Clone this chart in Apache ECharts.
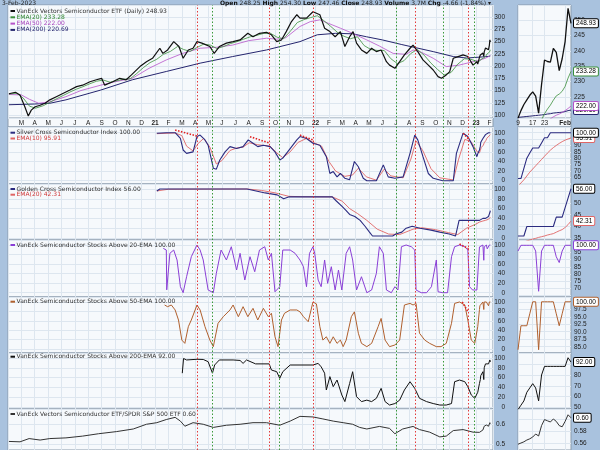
<!DOCTYPE html>
<html><head><meta charset="utf-8">
<script src="https://cdn.jsdelivr.net/npm/echarts@6/dist/echarts.min.js"></script>
<style>html,body{margin:0;padding:0;background:#a9c2de;}#c{width:600px;height:450px;}</style>
</head><body><div id="c"></div><script>
// ---------------- DATA ----------------
const monthLetters = ['J','F','M','A','M','J','J','A','S','O','N','D'];
const recentDates = ['2023-01-09','2023-01-10','2023-01-11','2023-01-12','2023-01-13','2023-01-17','2023-01-18','2023-01-19','2023-01-20','2023-01-23','2023-01-24','2023-01-25','2023-01-26','2023-01-27','2023-01-30','2023-01-31','2023-02-01','2023-02-02','2023-02-03'];
const recentTickIdx = [0,5,9,16];
const recentTickText = ['9','17','23','Feb'];

const price = [['2020-02-03',143.5],['2020-02-06',144],['2020-02-17',146.5],['2020-02-27',141],['2020-03-09',117],['2020-03-17',98],['2020-03-24',110],['2020-04-02',117],['2020-04-13',120],['2020-04-24',124],['2020-05-05',131],['2020-05-20',137.5],['2020-06-04',144],['2020-06-20',151],['2020-07-05',158],['2020-07-19',161],['2020-08-05',168],['2020-08-20',172],['2020-09-01',175],['2020-09-08',161],['2020-09-26',168],['2020-10-12',175],['2020-10-27',172],['2020-11-08',182],['2020-11-27',199],['2020-12-12',209],['2020-12-26',216],['2021-01-12',236.5],['2021-01-19',226],['2021-01-30',233],['2021-02-12',250],['2021-02-23',240],['2021-03-04',216],['2021-03-16',233],['2021-03-27',236.5],['2021-04-05',250],['2021-04-16',247],['2021-05-04',240],['2021-05-14',226],['2021-05-26',240],['2021-06-11',247],['2021-06-26',250],['2021-07-12',253.5],['2021-07-30',267],['2021-08-11',260],['2021-08-26',267],['2021-09-11',269],['2021-09-22',264],['2021-10-04',250],['2021-10-15',253.5],['2021-10-26',270.5],['2021-11-07',291],['2021-11-19',305],['2021-11-26',298],['2021-12-11',298],['2021-12-26',311],['2022-01-11',305],['2022-01-22',277.5],['2022-02-03',270.5],['2022-02-14',260],['2022-02-25',270.5],['2022-03-07',240],['2022-03-18',260],['2022-03-26',270.5],['2022-04-03',247],['2022-04-14',233],['2022-04-26',226],['2022-05-07',236.5],['2022-05-18',229.6],['2022-05-29',233],['2022-06-10',209],['2022-06-17',202],['2022-06-29',195.5],['2022-07-10',209],['2022-07-21',223],['2022-08-03',236.5],['2022-08-10',243],['2022-08-21',229.6],['2022-09-02',212.6],['2022-09-14',202],['2022-09-25',192],['2022-10-06',178.5],['2022-10-14',175],['2022-10-25',182],['2022-11-02',188.6],['2022-11-10',216],['2022-11-21',219.5],['2022-12-02',223],['2022-12-13',219.5],['2022-12-25',202],['2023-01-03',209],['2023-01-05',204]];
const recentPrice = [218,220.5,222.5,224,225.5,226.6,225.2,219.7,229,237,236.5,236.3,240.8,239.5,233.5,237.4,243,253.8,248.93];

const ema20 = [['2020-02-03',143],['2020-02-20',144.5],['2020-03-05',135],['2020-03-20',118],['2020-04-03',114],['2020-04-20',119],['2020-05-05',126],['2020-05-20',133],['2020-06-05',140],['2020-06-20',147],['2020-07-05',153],['2020-07-20',158],['2020-08-05',164],['2020-08-20',169],['2020-09-05',171.5],['2020-09-20',167],['2020-10-05',170],['2020-10-20',173],['2020-11-05',174],['2020-11-20',185],['2020-12-05',197],['2020-12-20',207],['2021-01-05',214],['2021-01-20',224],['2021-02-05',230],['2021-02-20',240],['2021-03-05',234],['2021-03-20',230],['2021-04-05',238],['2021-04-20',245],['2021-05-05',243],['2021-05-20',236],['2021-06-05',240],['2021-06-20',246],['2021-07-05',250],['2021-07-20',255],['2021-08-05',260],['2021-08-20',263],['2021-09-05',267],['2021-09-20',267],['2021-10-05',259],['2021-10-20',256],['2021-11-05',272],['2021-11-20',289],['2021-12-05',295],['2021-12-20',299],['2022-01-05',303],['2022-01-20',293],['2022-02-05',281],['2022-02-20',268],['2022-03-05',261],['2022-03-20',256],['2022-04-05',260],['2022-04-20',242],['2022-05-05',234],['2022-05-20',232],['2022-06-05',232],['2022-06-20',215],['2022-07-05',205],['2022-07-20',211],['2022-08-05',226],['2022-08-20',234],['2022-09-05',222],['2022-09-20',206],['2022-10-05',193],['2022-10-20',182],['2022-11-05',187],['2022-11-20',204],['2022-12-05',215],['2022-12-20',214],['2023-01-04',209.5]];
const recentEma20 = [210,210.9,212,213.1,214.3,215.4,216.3,216.6,217.5,219.5,221,222.3,223.9,225.3,225.9,226.8,228.4,231.1,233.28];

const ema50 = [['2020-02-03',142],['2020-03-01',141],['2020-03-20',132],['2020-04-10',124],['2020-05-05',127],['2020-06-11',137.5],['2020-07-15',150],['2020-08-30',161],['2020-10-01',168],['2020-11-10',175],['2020-12-18',195.5],['2021-01-27',212.6],['2021-03-03',226],['2021-04-12',236.5],['2021-05-20',238.5],['2021-06-25',243],['2021-08-01',252],['2021-09-11',257],['2021-10-04',255],['2021-10-25',258],['2021-11-26',281],['2021-12-20',291],['2022-01-11',294.5],['2022-02-25',277.5],['2022-03-25',267],['2022-04-26',253.5],['2022-05-25',241],['2022-06-25',226],['2022-07-25',224],['2022-08-10',233],['2022-08-30',228],['2022-09-25',216],['2022-10-25',199],['2022-11-23',202],['2022-12-25',209]];
const recentEma50 = [212,212.4,212.8,213.3,213.8,214.3,214.7,214.9,215.4,216.2,217,217.8,218.5,219,219.4,219.9,220.5,221.2,222.0];

const ema200 = [['2020-02-03',121],['2020-04-01',122.5],['2020-05-05',124],['2020-06-11',131],['2020-08-30',151],['2020-11-10',172],['2021-01-27',189],['2021-04-12',206],['2021-06-25',219.5],['2021-09-11',233],['2021-11-26',250],['2022-01-05',264],['2022-02-15',267],['2022-03-25',266],['2022-04-25',260],['2022-06-01',253.5],['2022-07-15',244],['2022-09-25',229.6],['2022-11-10',219.5],['2022-12-10',216.5]];
const recentEma200 = [218.3,218.4,218.5,218.6,218.7,218.8,218.9,219.0,219.1,219.2,219.4,219.5,219.7,219.8,219.9,220.0,220.2,220.5,220.69];

const silver = [['2021-01-05',99],['2021-01-27',100],['2021-02-15',100],['2021-02-26',88],['2021-03-04',64],['2021-03-12',57],['2021-03-27',60],['2021-04-05',92],['2021-04-12',95],['2021-04-23',85],['2021-04-30',74],['2021-05-12',26],['2021-05-19',24],['2021-05-27',43],['2021-06-08',60],['2021-06-19',71],['2021-07-04',67],['2021-07-19',71],['2021-07-31',85],['2021-08-11',78],['2021-08-22',71],['2021-09-04',74],['2021-09-19',71],['2021-09-30',60],['2021-10-11',43],['2021-10-18',47],['2021-11-04',67],['2021-11-19',85],['2021-11-26',92],['2021-12-11',88],['2021-12-26',78],['2022-01-11',74],['2022-01-26',50],['2022-02-03',15],['2022-02-10',19],['2022-02-18',8],['2022-02-25',15],['2022-03-07',5],['2022-03-18',2],['2022-03-29',40],['2022-04-07',29],['2022-04-18',5],['2022-04-26',0],['2022-05-18',0],['2022-06-03',33],['2022-06-14',8],['2022-06-29',5],['2022-07-18',8],['2022-08-03',57],['2022-08-14',95],['2022-08-21',85],['2022-09-02',50],['2022-09-14',15],['2022-09-25',5],['2022-10-17',0],['2022-11-10',0],['2022-11-17',57],['2022-12-02',99],['2022-12-13',92],['2022-12-25',71],['2023-01-03',50],['2023-01-05',56]];
const recentSilver = [64,64,72,80,84,88,88,88,92,96,96,100,100,100,100,100,100,100,100];
const silverEma10 = [['2021-01-05',98],['2021-02-15',99.5],['2021-03-01',94],['2021-03-12',72],['2021-03-27',62],['2021-04-08',78],['2021-04-20',88],['2021-05-04',70],['2021-05-19',35],['2021-06-01',42],['2021-06-19',63],['2021-07-04',68],['2021-07-19',70],['2021-08-02',79],['2021-08-22',75],['2021-09-19',72],['2021-10-04',58],['2021-10-18',48],['2021-11-04',60],['2021-11-22',80],['2021-12-11',88],['2021-12-26',80],['2022-01-15',72],['2022-02-01',40],['2022-02-15',20],['2022-03-07',9],['2022-03-25',12],['2022-04-07',26],['2022-04-25',8],['2022-05-18',1],['2022-06-05',24],['2022-06-20',10],['2022-07-18',6],['2022-08-05',45],['2022-08-17',83],['2022-09-02',62],['2022-09-20',25],['2022-10-10',6],['2022-11-10',1.5],['2022-11-22',45],['2022-12-06',86],['2022-12-20',82],['2023-01-04',60]];
const recentSilverEma10 = [58,60.5,63,66,69,71.5,74,76.5,79,81.5,84,86.3,88.3,90,91.6,93,94.2,95.1,95.91];

const golden = [['2021-01-05',96],['2021-01-12',100],['2021-07-28',100],['2021-07-30',96],['2021-09-08',92],['2021-10-05',88],['2021-10-20',80],['2021-11-02',84],['2022-02-08',84],['2022-02-16',76],['2022-03-01',64],['2022-03-10',56],['2022-03-18',48],['2022-03-30',44],['2022-04-11',36],['2022-04-22',24],['2022-05-02',12],['2022-05-09',4],['2022-06-24',4],['2022-07-01',8],['2022-07-15',12],['2022-07-25',20],['2022-08-08',24],['2022-08-26',20],['2022-09-20',16],['2022-10-10',12],['2022-11-01',8],['2022-11-15',4],['2022-11-23',36]];
const recentGolden = [36,36,36,40,40,40,40,40,40,40,40,40,40,44,44,44,48,52,56];
const goldenEma20 = [['2021-01-05',96],['2021-02-01',99.5],['2021-07-28',100],['2021-08-31',97],['2021-10-01',92],['2021-11-01',85],['2021-12-01',84.3],['2022-02-08',84],['2022-03-01',75],['2022-03-18',60],['2022-04-05',50],['2022-04-26',36],['2022-05-20',18],['2022-06-15',8],['2022-07-10',7],['2022-08-10',18],['2022-08-30',21],['2022-09-30',17],['2022-10-30',11],['2022-11-20',7],['2022-12-10',20],['2022-12-31',28]];
const recentGoldenEma20 = [32.5,33,33.4,33.9,34.3,34.7,35,35.4,35.7,36,36.4,36.7,37,37.6,38.2,38.7,39.6,40.8,42.31];

const above20 = [['2021-01-20',93],['2021-01-27',89.5],['2021-01-28',6],['2021-02-04',82.6],['2021-02-12',89.5],['2021-02-19',68.6],['2021-02-26',12.6],['2021-03-04',0],['2021-03-12',33.5],['2021-03-23',75.5],['2021-04-05',100],['2021-04-12',89.5],['2021-04-19',68.6],['2021-04-30',5.7],['2021-05-12',0],['2021-05-19',40.6],['2021-05-30',89.5],['2021-06-11',68.6],['2021-06-22',96.4],['2021-07-04',47.6],['2021-07-12',82.6],['2021-07-23',26.6],['2021-08-04',75.5],['2021-08-15',44],['2021-08-26',89.5],['2021-09-07',96.4],['2021-09-15',68.6],['2021-09-22',82.6],['2021-09-30',2],['2021-10-11',12.6],['2021-10-18',89.5],['2021-11-04',89.5],['2021-11-15',82.6],['2021-11-26',68.6],['2021-12-04',54.5],['2021-12-11',12.6],['2021-12-18',82.6],['2021-12-26',96.4],['2021-12-30',82.6],['2022-01-07',26.6],['2022-01-14',12.6],['2022-01-22',68.6],['2022-01-29',19.6],['2022-02-06',54.5],['2022-02-14',5.7],['2022-02-21',47.6],['2022-02-28',5.7],['2022-03-10',82.6],['2022-03-18',96.4],['2022-03-25',68.6],['2022-04-03',5.7],['2022-04-14',33.5],['2022-04-26',0],['2022-05-07',5.7],['2022-05-18',40.6],['2022-05-25',96.4],['2022-06-03',82.6],['2022-06-10',5.7],['2022-06-21',0],['2022-06-29',12.6],['2022-07-06',5.7],['2022-07-14',96.4],['2022-07-25',100],['2022-08-06',96.4],['2022-08-14',89.5],['2022-08-17',5.7],['2022-08-29',0],['2022-09-10',0],['2022-09-21',12.6],['2022-10-02',68.6],['2022-10-06',2],['2022-10-17',0],['2022-10-28',0],['2022-11-06',75.5],['2022-11-13',96.4],['2022-11-24',100],['2022-12-06',96.4],['2022-12-13',89.5],['2022-12-17',12.6],['2022-12-24',5.7],['2023-01-03',5.7]];
const recentAbove20 = [96,100,100,100,100,100,96,68,96,100,100,100,100,92,88,96,100,100,100];

const above50 = [['2021-01-23',93.6],['2021-01-30',90],['2021-02-07',93.6],['2021-02-15',83],['2021-02-22',61.7],['2021-03-01',19],['2021-03-08',12],['2021-03-16',47.4],['2021-03-23',61.7],['2021-04-05',93.6],['2021-04-12',83],['2021-04-23',47.4],['2021-05-04',19],['2021-05-12',5],['2021-05-23',54.7],['2021-06-04',68.7],['2021-06-19',83],['2021-06-26',93.6],['2021-07-08',68.7],['2021-07-19',90],['2021-07-30',68.7],['2021-08-11',86.5],['2021-08-22',61.7],['2021-09-04',86.5],['2021-09-15',68.7],['2021-09-22',76],['2021-09-30',26],['2021-10-07',5],['2021-10-15',61.7],['2021-10-22',76],['2021-11-04',83],['2021-11-19',83],['2021-11-26',79],['2021-12-04',68.7],['2021-12-15',58],['2021-12-26',100],['2022-01-03',96],['2022-01-11',47.4],['2022-01-18',19],['2022-01-26',26],['2022-02-03',12],['2022-02-10',26],['2022-02-18',12],['2022-02-25',19],['2022-03-03',5],['2022-03-10',19],['2022-03-22',68.7],['2022-03-29',79],['2022-04-07',33.5],['2022-04-14',12],['2022-04-26',5],['2022-05-07',12],['2022-05-22',47.4],['2022-05-29',65],['2022-06-07',19],['2022-06-17',5],['2022-06-29',8.5],['2022-07-10',19],['2022-07-21',93.6],['2022-08-03',97],['2022-08-10',93.6],['2022-08-17',97],['2022-08-25',33.5],['2022-09-06',19],['2022-09-17',12],['2022-10-02',5],['2022-10-13',5],['2022-10-25',12],['2022-11-06',54.7],['2022-11-13',97],['2022-11-24',100],['2022-12-06',93.6],['2022-12-13',61.7],['2022-12-21',19],['2022-12-29',12],['2023-01-05',47.4]];
const recentAbove50 = [84,92,92,92,96,100,100,84,100,100,100,100,100,96,92,96,100,100,100];

const above200 = [['2021-03-02',69],['2021-03-05',99],['2021-03-12',96],['2021-04-05',97.4],['2021-04-19',97],['2021-04-30',92.5],['2021-05-10',69],['2021-05-15',85.7],['2021-05-26',96],['2021-06-26',96],['2021-07-12',95],['2021-07-19',89],['2021-07-27',96],['2021-08-17',88],['2021-09-17',88],['2021-09-22',75.5],['2021-10-04',72],['2021-10-11',58.5],['2021-10-18',72],['2021-11-04',85.7],['2021-12-26',85.7],['2022-01-07',89],['2022-01-14',82],['2022-01-22',69],['2022-01-26',34.7],['2022-02-03',62],['2022-02-10',41.5],['2022-02-18',55],['2022-02-28',24.5],['2022-03-07',11],['2022-03-18',48],['2022-03-25',72],['2022-04-03',21],['2022-04-14',11],['2022-04-26',14],['2022-05-07',11],['2022-05-18',17.7],['2022-05-29',38],['2022-06-07',11],['2022-06-17',4],['2022-06-29',7],['2022-07-10',14],['2022-07-21',34.7],['2022-08-03',51.6],['2022-08-14',38],['2022-08-25',17.7],['2022-09-10',11],['2022-09-25',7],['2022-10-10',4],['2022-10-25',4],['2022-11-06',7],['2022-11-13',51.6],['2022-11-24',55],['2022-12-06',51.6],['2022-12-13',41.5],['2022-12-21',24.5],['2022-12-29',17.7],['2023-01-05',30]];
const recentAbove200 = [48,52,56,64,68,72,68,56,80,88,88,88,88,88,88,88,88,96,92];

const ratio = [['2020-02-03',0.513],['2020-02-06',0.512],['2020-02-27',0.511],['2020-03-19',0.5275],['2020-04-13',0.52],['2020-05-05',0.5275],['2020-06-11',0.531],['2020-07-19',0.54],['2020-08-25',0.552],['2020-10-05',0.563],['2020-11-12',0.576],['2020-12-12',0.6],['2021-01-05',0.608],['2021-01-27',0.624],['2021-02-15',0.635],['2021-02-26',0.616],['2021-03-08',0.59],['2021-03-27',0.608],['2021-04-19',0.6],['2021-05-12',0.584],['2021-06-11',0.595],['2021-07-12',0.6],['2021-08-11',0.608],['2021-09-11',0.608],['2021-10-11',0.595],['2021-11-04',0.616],['2021-11-26',0.64],['2021-12-26',0.637],['2022-01-18',0.627],['2022-02-10',0.616],['2022-03-03',0.608],['2022-03-25',0.6],['2022-04-10',0.584],['2022-04-26',0.576],['2022-05-25',0.589],['2022-06-17',0.579],['2022-06-29',0.552],['2022-07-17',0.576],['2022-08-10',0.589],['2022-08-25',0.573],['2022-09-17',0.56],['2022-10-10',0.536],['2022-10-25',0.54],['2022-11-10',0.568],['2022-12-02',0.573],['2022-12-25',0.56]];
const recentRatio = [0.559,0.561,0.563,0.566,0.568,0.571,0.576,0.5727,0.590,0.600,0.598,0.596,0.601,0.597,0.590,0.588,0.597,0.608,0.603];

const redSignals = ['2021-04-05','2021-09-17','2021-12-27','2022-08-15','2022-12-15'];
const greenSignals = ['2021-05-10','2021-10-11','2022-07-01','2022-10-17','2022-12-27'];
const silverTrendlines = [[['2021-02-15',105.6],['2021-04-05',93]],[['2021-08-04',91.7],['2021-09-19',78]],[['2021-11-26',95],['2021-12-26',85]],[['2022-12-02',99],['2022-12-17',85]]];
const above20Trendlines = [[['2022-11-24',102],['2022-12-15',92]]];
const above50Trendlines = [[['2022-11-30',100],['2022-12-13',80]]];

// ---------------- LAYOUT / STYLE ----------------
const PLOT = '#f6f9fc', GRIDC = '#dde6ef', BORDER = '#8a9bad';
const AXF = 'Liberation Sans, Arial, sans-serif';
const LGF = 'DejaVu Sans';
const MAIN_L = 8, MAIN_W = 485, SM_L = 518, SM_W = 53;
const panels = [
  {top:5, bottom:118, min:93.9, max:324.9, step:25, sMin:218.1, sMax:254.9, sStep:5, sLab:[219,251], sDec:0},
  {top:127, bottom:184, min:-6.9, max:111.9, step:20, sMin:59.7, sMax:104.5, sStep:5, sLab:[62,101], sDec:0},
  {top:184, bottom:240, min:-4.1, max:110.2, step:20, sMin:34.3, sMax:58.0, sStep:5, sLab:[34,56], sDec:0},
  {top:240, bottom:297, min:-9.0, max:110.5, step:20, sMin:64.0, sMax:103.7, sStep:5, sLab:[68,101], sDec:0},
  {top:297, bottom:353, min:-8.5, max:110.6, step:20, sMin:82.9, sMax:101.6, sStep:2.5, sLab:[84,101], sDec:1},
  {top:353, bottom:409, min:-4.1, max:110.2, step:20, sMin:48.5, sMax:100.4, sStep:10, sLab:[48,95], sDec:0},
  {top:409, bottom:452, min:0.4696, max:0.6773, step:0.1, sMin:0.5494, sMax:0.6176, sStep:0.02, sLab:[0.555,0.61], sDec:2}
];

const toM = d => { const [y,mo,da] = d.split('-').map(Number); const dim = new Date(y, mo, 0).getDate(); return (y-2020)*12 + (mo-1) + (da-1)/dim; };
const join = (hist, recent) => hist.map(([d,v]) => [toM(d), v]).concat(recentDates.map((d,i) => [toM(d), recent[i]]));
const conv = h => h.map(([d,v]) => [toM(d), v]);

const grids = [], xAxes = [], yAxes = [], series = [];
const NP = panels.length;
panels.forEach((p, k) => {
  grids.push({left:MAIN_L, top:p.top, width:MAIN_W, height:p.bottom-p.top, show:true, backgroundColor:PLOT, borderColor:BORDER, borderWidth:1, containLabel:false});
  xAxes.push({gridIndex:k, type:'value', min:1, max:37.27, interval:1, axisLine:{show:false}, axisTick:{show:false},
    splitLine:{show:true, lineStyle:{color:GRIDC, width:1}},
    axisLabel: k===0 ? {show:true, margin:1.5, fontSize:6.5, fontFamily:AXF, color:'#222',
      formatter: v => { if (v < 2) return ''; const mo = ((v % 12) + 12) % 12; return mo === 0 ? '{b|' + String(2020 + v/12).slice(2) + '}' : monthLetters[mo]; },
      rich:{b:{fontWeight:'bold', fontSize:6.5, fontFamily:AXF, color:'#222'}}} : {show:false}});
  yAxes.push({gridIndex:k, type:'value', position:'right', min:p.min, max:p.max, minInterval:p.step, maxInterval:p.step,
    axisLine:{show:false}, axisTick:{show:false}, splitLine:{show:true, lineStyle:{color:GRIDC, width:1}},
    axisLabel:{showMinLabel:false, showMaxLabel:false, fontSize:6.5, fontFamily:AXF, color:'#222', align:'right', margin:12,
      formatter: v => (v < p.min + 1e-9 || v > p.max - 1e-9) ? '' : String(+v.toFixed(2))}});
});
panels.forEach((p, k) => {
  const g = NP + k;
  grids.push({left:SM_L, top:p.top, width:SM_W, height:p.bottom-p.top, show:true, backgroundColor:PLOT, borderColor:BORDER, borderWidth:1});
  xAxes.push({gridIndex:g, type:'category', data:recentDates, boundaryGap:false, axisLine:{show:false}, axisTick:{show:false},
    splitLine:{show:true, interval:(i) => recentTickIdx.includes(i), lineStyle:{color:GRIDC, width:1}},
    axisLabel: k===0 ? {show:true, margin:1.5, fontSize:6.5, fontFamily:AXF, color:'#222', interval:(i) => recentTickIdx.includes(i),
      formatter:(v, i) => { const j = recentTickIdx.indexOf(i); const t = j >= 0 ? recentTickText[j] : ''; return t === 'Feb' ? '{b|Feb}' : t; },
      rich:{b:{fontWeight:'bold', fontSize:6.5, fontFamily:AXF, color:'#222'}}} : {show:false}});
  yAxes.push({gridIndex:g, type:'value', position:'right', min:p.sMin, max:p.sMax, minInterval:p.sStep, maxInterval:p.sStep,
    axisLine:{show:false}, axisTick:{show:false}, splitLine:{show:true, lineStyle:{color:GRIDC, width:1}},
    axisLabel:{showMinLabel:false, showMaxLabel:false, fontSize:6.5, fontFamily:AXF, color:'#222', margin:3,
      formatter: v => (v < p.sLab[0] || v > p.sLab[1]) ? '' : v.toFixed(p.sDec)}});
});
const OV = 2*NP;
grids.push({left:MAIN_L, top:5, width:MAIN_W, height:445, show:false});
xAxes.push({gridIndex:OV, type:'value', min:1, max:37.27, show:false});
yAxes.push({gridIndex:OV, type:'value', min:0, max:1, show:false});

function ln(g, data, color, width, extra) {
  return Object.assign({type:'line', xAxisIndex:g, yAxisIndex:g, data, symbol:'none', showSymbol:false,
    lineStyle:{color, width}, itemStyle:{color}, silent:true, animation:false, z:3}, extra || {});
}
function box(color, txt) {
  return {endLabel:{show:true, formatter:txt, distance:3, fontSize:6.5, fontFamily:AXF, color:'#000', backgroundColor:'#fff',
    borderColor:color, borderWidth:1, padding:[1,2,0,2], borderRadius:1}};
}
const C = {price:'#111', e20:'#3b8f3b', e50:'#b653c9', e200:'#25256e', navy:'#2b2b80', red:'#e06565', a20:'#8a3fd6', a50:'#b0602e', a200:'#111', ratio:'#333'};

series.push(ln(0, join(ema200, recentEma200), C.e200, 1));
series.push(ln(0, join(ema50, recentEma50), C.e50, 0.8));
series.push(ln(0, join(ema20, recentEma20), C.e20, 0.8));
series.push(ln(0, join(price, recentPrice), C.price, 1.2, {z:4}));
series.push(ln(1, join(silverEma10, recentSilverEma10), C.red, 0.9));
series.push(ln(1, join(silver, recentSilver), C.navy, 1.1, {z:4}));
series.push(ln(2, join(goldenEma20, recentGoldenEma20), C.red, 0.9));
series.push(ln(2, join(golden, recentGolden), C.navy, 1.1, {z:4}));
series.push(ln(3, join(above20, recentAbove20), C.a20, 1));
series.push(ln(4, join(above50, recentAbove50), C.a50, 1));
series.push(ln(5, join(above200, recentAbove200), C.a200, 1));
series.push(ln(6, join(ratio, recentRatio), C.ratio, 1));
[[1, silverTrendlines], [3, above20Trendlines], [4, above50Trendlines]].forEach(([g, list]) => list.forEach(seg =>
  series.push(ln(g, conv(seg), '#e02020', 1.6, {z:6, lineStyle:{color:'#e02020', width:1.6, type:[1.5,1.5]}}))));

const last = a => a[a.length-1];
series.push(ln(NP+0, recentEma200, C.e200, 1, box(C.e200, last(recentEma200).toFixed(2))));
series.push(ln(NP+0, recentEma50, C.e50, 0.8, box(C.e50, last(recentEma50).toFixed(2))));
series.push(ln(NP+0, recentEma20, C.e20, 0.8, box(C.e20, last(recentEma20).toFixed(2))));
series.push(ln(NP+0, recentPrice, C.price, 1.3, Object.assign({z:4}, box('#000', last(recentPrice).toFixed(2)))));
series.push(ln(NP+1, recentSilverEma10, C.red, 0.9, box(C.red, last(recentSilverEma10).toFixed(2))));
series.push(ln(NP+1, recentSilver, C.navy, 1.1, Object.assign({z:4}, box('#000', last(recentSilver).toFixed(2)))));
series.push(ln(NP+2, recentGoldenEma20, C.red, 0.9, box(C.red, last(recentGoldenEma20).toFixed(2))));
series.push(ln(NP+2, recentGolden, C.navy, 1.1, Object.assign({z:4}, box('#000', last(recentGolden).toFixed(2)))));
series.push(ln(NP+3, recentAbove20, C.a20, 1, box(C.a20, last(recentAbove20).toFixed(2))));
series.push(ln(NP+4, recentAbove50, C.a50, 1, box(C.a50, last(recentAbove50).toFixed(2))));
series.push(ln(NP+5, recentAbove200, C.a200, 1, box('#000', last(recentAbove200).toFixed(2))));
series.push(ln(NP+6, recentRatio, C.ratio, 1, box('#000', last(recentRatio).toFixed(2))));

series.push({type:'line', xAxisIndex:OV, yAxisIndex:OV, data:[[1,-1]], symbol:'none', lineStyle:{opacity:0}, silent:true, animation:false, z:8,
  markLine:{symbol:['none','none'], silent:true, animation:false, label:{show:false},
    data: redSignals.map(d => ({xAxis:toM(d), lineStyle:{color:'#e23a3a', type:[1.5,2], width:1}}))
      .concat(greenSignals.map(d => ({xAxis:toM(d), lineStyle:{color:'#3a9a3a', type:[1.5,2], width:1}})))}});

const G = [];
function leg(y, color, text, tcolor) {
  G.push({type:'rect', z:50, shape:{x:10.5, y:y-1, width:4.5, height:2}, style:{fill:color}});
  G.push({type:'text', z:50, x:16.5, y:y, style:{text, fill:tcolor, fontSize:6, fontFamily:LGF, verticalAlign:'middle'}});
}
leg(11, '#111', 'VanEck Vectors Semiconductor ETF (Daily) ' + last(recentPrice).toFixed(2), '#333');
leg(17.3, C.e20, 'EMA(20) ' + last(recentEma20).toFixed(2), '#2f862f');
leg(23.6, C.e50, 'EMA(50) ' + last(recentEma50).toFixed(2), '#a844bd');
leg(29.9, C.e200, 'EMA(200) ' + last(recentEma200).toFixed(2), '#25256e');
leg(132.7, C.navy, 'Silver Cross Semiconductor Index ' + last(recentSilver).toFixed(2), '#333');
leg(138.5, C.red, 'EMA(10) ' + last(recentSilverEma10).toFixed(2), '#d23a3a');
leg(189, C.navy, 'Golden Cross Semiconductor Index ' + last(recentGolden).toFixed(2), '#333');
leg(194.7, C.red, 'EMA(20) ' + last(recentGoldenEma20).toFixed(2), '#d23a3a');
leg(245, C.a20, 'VanEck Semiconductor Stocks Above 20-EMA ' + last(recentAbove20).toFixed(2), '#333');
leg(301.7, C.a50, 'VanEck Semiconductor Stocks Above 50-EMA ' + last(recentAbove50).toFixed(2), '#333');
leg(356.7, C.a200, 'VanEck Semiconductor Stocks Above 200-EMA ' + last(recentAbove200).toFixed(2), '#333');
leg(414, C.ratio, 'VanEck Vectors Semiconductor ETF/SPDR S&P 500 ETF ' + last(recentRatio).toFixed(2), '#333');
G.push({type:'rect', z:-1, shape:{x:MAIN_L, y:118, width:MAIN_W, height:9}, style:{fill:PLOT, stroke:BORDER, lineWidth:1}});
G.push({type:'rect', z:-1, shape:{x:SM_L, y:118, width:SM_W, height:9}, style:{fill:PLOT, stroke:BORDER, lineWidth:1}});
G.push({type:'text', z:50, x:2, y:3, style:{text:'3-Feb-2023', fill:'#222', fontSize:6, fontFamily:LGF, verticalAlign:'middle'}});
G.push({type:'text', z:50, x:491, y:3, style:{
  text:'{b|Open} 248.25 {b|High} 254.30 {b|Low} 247.46 {b|Close} 248.93 {b|Volume} 3.7M {b|Chg} -4.66 (-1.84%) \u25BE',
  fill:'#222', fontSize:6, fontFamily:LGF, align:'right', verticalAlign:'middle',
  rich:{b:{fontWeight:'bold', fill:'#111', fontSize:6, fontFamily:LGF}}}});

const chart = echarts.init(document.getElementById('c'), null, {renderer:'canvas'});
chart.setOption({animation:false, backgroundColor:'#a9c2de', grid:grids, xAxis:xAxes, yAxis:yAxes, series, graphic:{elements:G}});
</script></body></html>
